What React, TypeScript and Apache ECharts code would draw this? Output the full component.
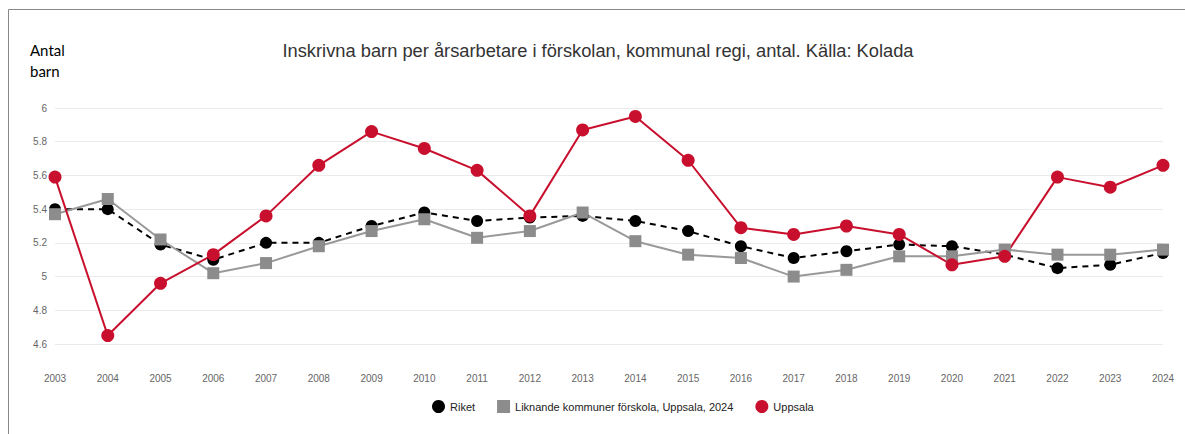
import React, { useEffect, useRef } from "react";
import * as echarts from "echarts";

const years = ["2003","2004","2005","2006","2007","2008","2009","2010","2011","2012","2013","2014","2015","2016","2017","2018","2019","2020","2021","2022","2023","2024"];
const riket = [5.40,5.40,5.19,5.10,5.20,5.20,5.30,5.38,5.33,5.35,5.36,5.33,5.27,5.18,5.11,5.15,5.19,5.18,5.13,5.05,5.07,5.14];
const liknande = [5.37,5.46,5.22,5.02,5.08,5.18,5.27,5.34,5.23,5.27,5.38,5.21,5.13,5.11,5.00,5.04,5.12,5.12,5.16,5.13,5.13,5.16];
const uppsala = [5.59,4.65,4.96,5.13,5.36,5.66,5.86,5.76,5.63,5.36,5.87,5.95,5.69,5.29,5.25,5.30,5.25,5.07,5.12,5.59,5.53,5.66];

const titleText = "Inskrivna barn per årsarbetare i förskolan, kommunal regi, antal. Källa: Kolada";
const RED = "#C8102E";

export default function App() {
  const ref = useRef<HTMLDivElement>(null);
  useEffect(() => {
    document.body.style.margin = "0";
    const chart = echarts.init(ref.current!, null, { renderer: "svg" });
    chart.setOption({
      animation: false,
      backgroundColor: "#fff",
      textStyle: { fontFamily: "Liberation Sans, Arial, sans-serif" },
      grid: { left: 55, right: 22, top: 108, bottom: 90, containLabel: false },
      graphic: [
        { type: "line", shape: { x1: 8.5, y1: 9.5, x2: 1185, y2: 9.5 }, style: { stroke: "#888", lineWidth: 1 } },
        { type: "line", shape: { x1: 8.5, y1: 9.5, x2: 8.5, y2: 434 }, style: { stroke: "#888", lineWidth: 1 } },
        { type: "text", x: 598, y: 50, style: { text: titleText, fill: "#333", font: "18.3px Liberation Sans, Arial, sans-serif", textAlign: "center", textVerticalAlign: "middle" } },
        { type: "text", x: 30, y: 50, style: { text: "Antal", fill: "#000", font: "15px Lato, sans-serif", textVerticalAlign: "middle" } },
        { type: "text", x: 30, y: 71, style: { text: "barn", fill: "#000", font: "15px Lato, sans-serif", textVerticalAlign: "middle" } },
      ],
      legend: {
        left: 427,
        top: 395,
        itemWidth: 13,
        itemHeight: 13,
        itemGap: 22,
        textStyle: { fontSize: 11, color: "#222" },
        data: [
          { name: "Riket", icon: "circle" },
          { name: "Liknande kommuner förskola, Uppsala, 2024", icon: "rect" },
          { name: "Uppsala", icon: "circle" },
        ],
      },
      xAxis: {
        type: "category",
        data: years,
        boundaryGap: false,
        axisLine: { show: false },
        axisTick: { show: false },
        axisLabel: { color: "#666", fontSize: 10, margin: 29 },
        splitLine: { show: false },
      },
      yAxis: {
        type: "value",
        min: 4.6,
        max: 6,
        interval: 0.2,
        axisLine: { show: false },
        axisTick: { show: false },
        axisLabel: { color: "#666", fontSize: 10, margin: 8, formatter: (v: number) => String(Math.round(v * 10) / 10) },
        splitLine: { lineStyle: { color: "#ebebeb", width: 1 } },
      },
      series: [
        {
          name: "Riket",
          type: "line",
          data: riket,
          symbol: "circle",
          symbolSize: 12,
          itemStyle: { color: "#000" },
          lineStyle: { color: "#000", width: 2, type: [6, 5] },
        },
        {
          name: "Liknande kommuner förskola, Uppsala, 2024",
          type: "line",
          data: liknande,
          symbol: "rect",
          symbolSize: 12,
          itemStyle: { color: "#8c8c8c" },
          lineStyle: { color: "#999", width: 2 },
        },
        {
          name: "Uppsala",
          type: "line",
          data: uppsala,
          symbol: "circle",
          symbolSize: 13,
          itemStyle: { color: RED },
          lineStyle: { color: RED, width: 2 },
        },
      ],
    });
    return () => chart.dispose();
  }, []);
  return <div ref={ref} style={{ width: 1185, height: 434 }} />;
}
